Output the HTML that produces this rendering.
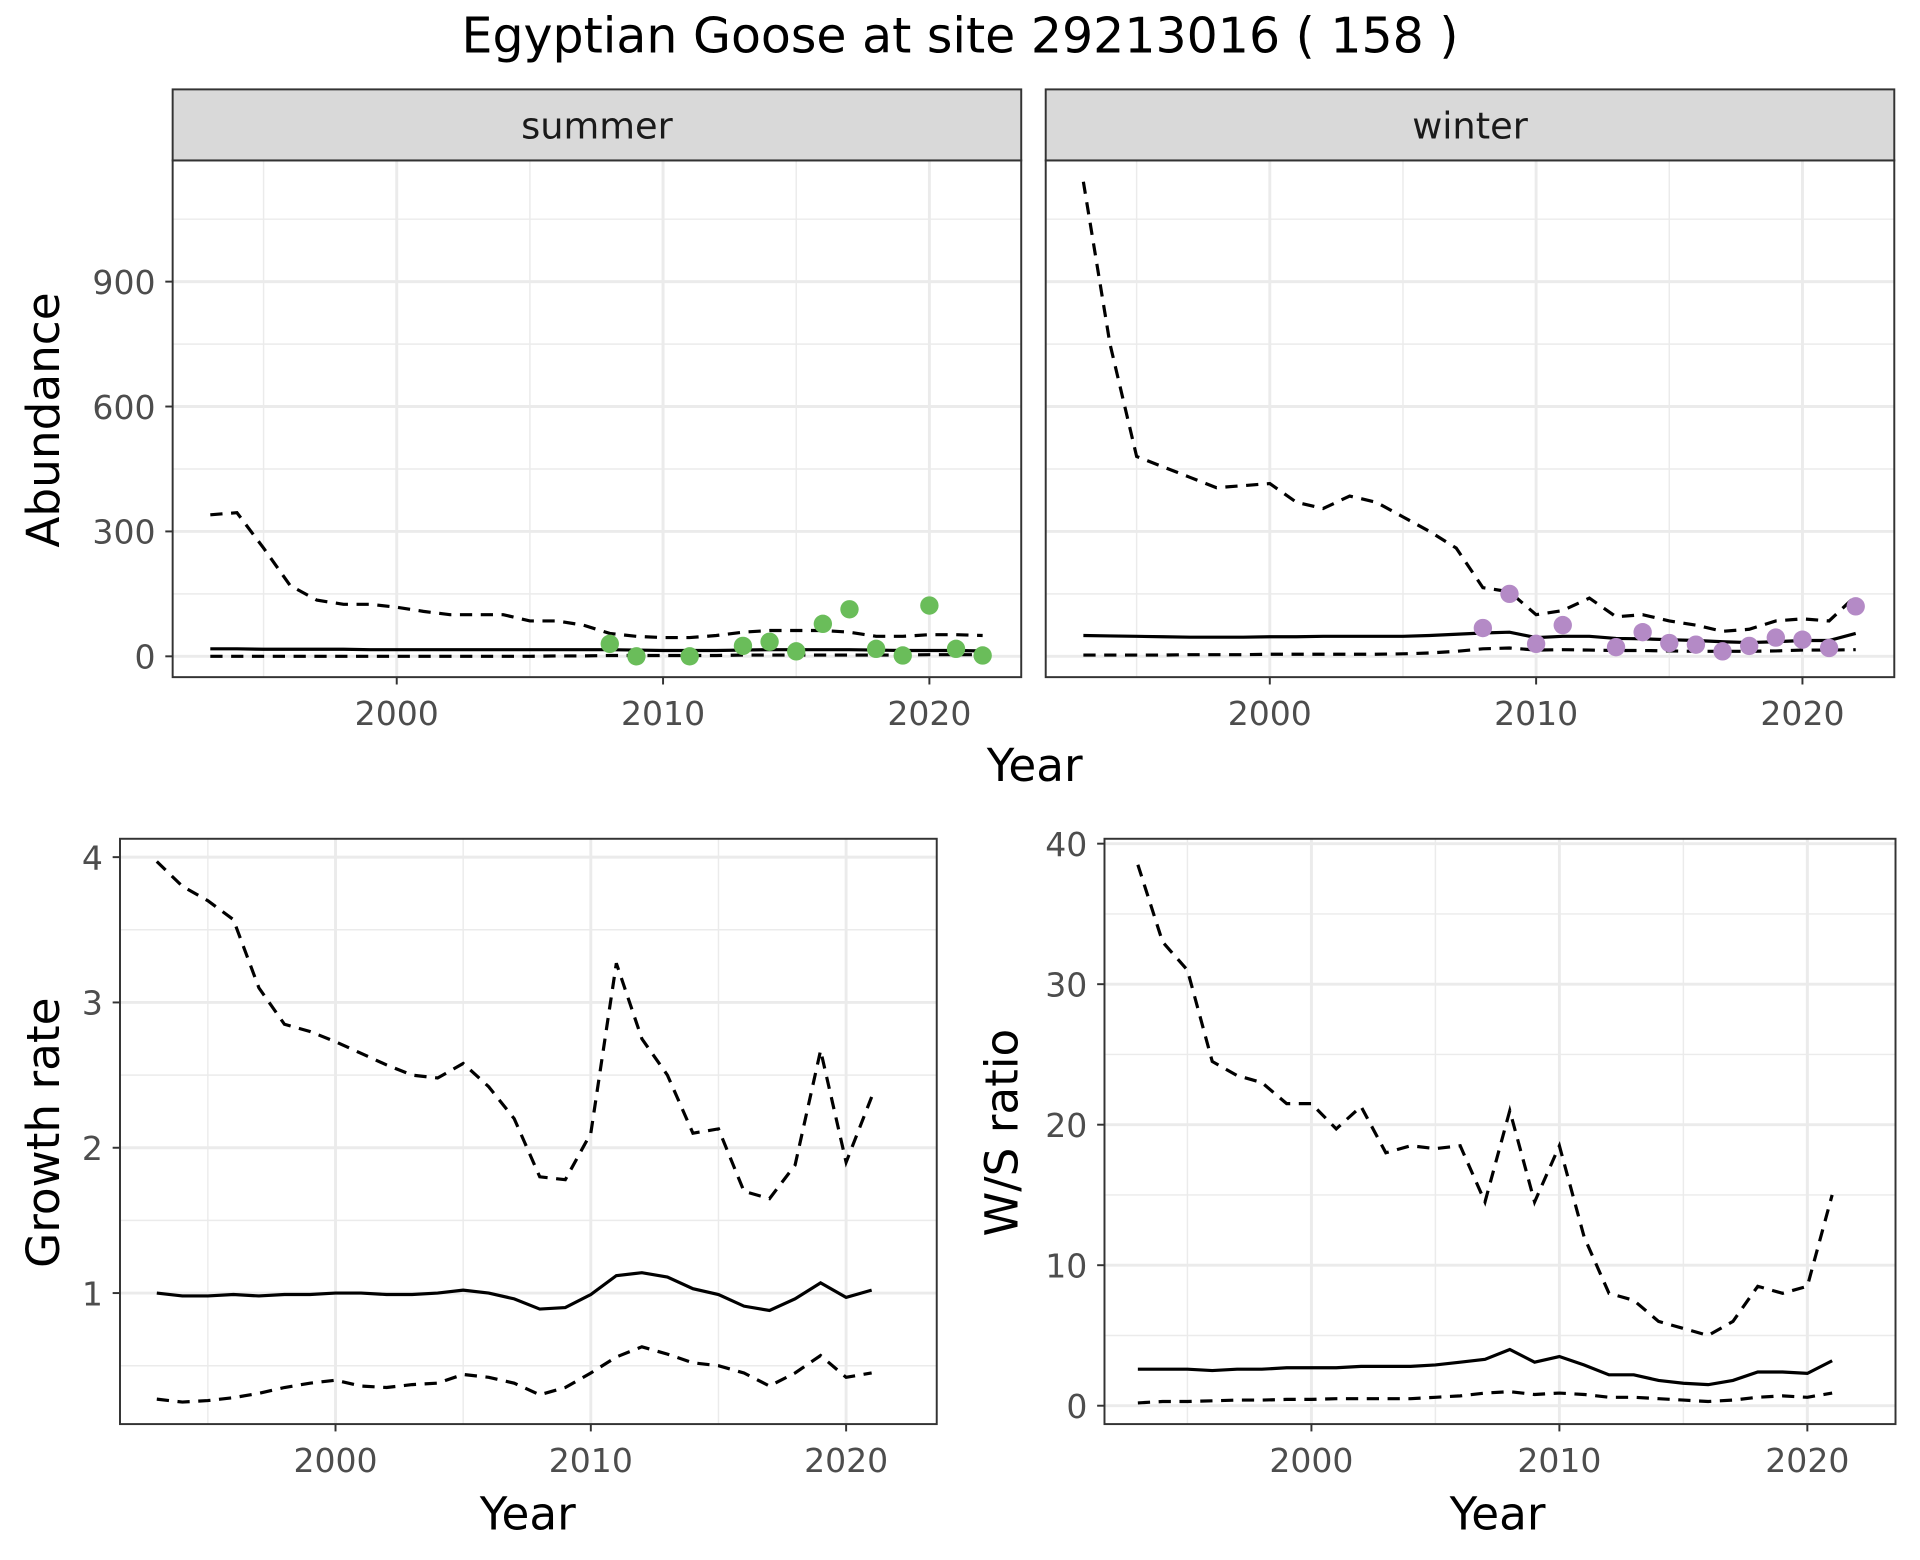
<!DOCTYPE html>
<html><head><meta charset="utf-8"><style>
html,body{margin:0;padding:0;background:#fff;}
svg{display:block;font-family:"DejaVu Sans","Liberation Sans",sans-serif;}
</style></head><body>
<svg id="chart" width="1920" height="1560" viewBox="0 0 1568 1274" preserveAspectRatio="none" xmlns="http://www.w3.org/2000/svg">
<text x="784" y="43" text-anchor="middle" font-size="40" fill="#000">Egyptian Goose at site 29213016 ( 158 )</text>
</svg>
<script>
const yearsA = [1993,1994,1995,1996,1997,1998,1999,2000,2001,2002,2003,2004,2005,2006,2007,2008,2009,2010,2011,2012,2013,2014,2015,2016,2017,2018,2019,2020,2021,2022];
const sumUpper = [340,345,260,170,135,125,125,118,108,100,100,100,85,85,75,55,48,45,45,50,58,62,62,62,58,48,48,52,52,50];
const sumMean = [18,18,17,17,17,17,16,16,16,16,16,16,16,16,16,16,15,14,14,14,15,16,16,16,16,15,14,14,14,13];
const sumLower = [0,0,0,0,0,0,0,0,0,0,0,0,0,1,1,2,2,2,2,2,3,3,3,3,3,3,3,4,4,4];
const sumPtYears = [2008,2009,2011,2013,2014,2015,2016,2017,2018,2019,2020,2021,2022];
const sumPtVals = [30,0,0,25,35,12,78,113,18,2,122,18,2];
const winUpper = [1140,750,480,455,430,405,410,415,370,355,385,370,335,300,260,165,155,100,110,140,95,100,85,75,60,65,85,90,85,145];
const winMean = [50,49,48,47,46,46,46,47,47,48,48,48,48,50,53,56,58,45,48,48,43,42,40,38,35,33,35,38,38,55];
const winLower = [3,3,3,3,4,4,4,5,5,5,5,5,6,8,12,18,20,15,16,15,14,14,13,12,12,12,13,15,15,16];
const winPtYears = [2008,2009,2010,2011,2013,2014,2015,2016,2017,2018,2019,2020,2021,2022];
const winPtVals = [68,150,30,75,22,58,32,28,12,25,45,40,20,120];
const yearsB = [1993,1994,1995,1996,1997,1998,1999,2000,2001,2002,2003,2004,2005,2006,2007,2008,2009,2010,2011,2012,2013,2014,2015,2016,2017,2018,2019,2020,2021];
const grUpper = [3.97,3.8,3.7,3.57,3.1,2.85,2.8,2.73,2.65,2.57,2.5,2.48,2.58,2.42,2.2,1.8,1.78,2.1,3.27,2.75,2.5,2.1,2.13,1.7,1.65,1.88,2.67,1.9,2.35];
const grMean = [1.0,0.98,0.98,0.99,0.98,0.99,0.99,1.0,1.0,0.99,0.99,1.0,1.02,1.0,0.96,0.89,0.9,0.99,1.12,1.14,1.11,1.03,0.99,0.91,0.88,0.96,1.07,0.97,1.02];
const grLower = [0.27,0.25,0.26,0.28,0.31,0.35,0.38,0.4,0.36,0.35,0.37,0.38,0.44,0.42,0.38,0.3,0.35,0.45,0.56,0.63,0.58,0.52,0.5,0.45,0.36,0.45,0.57,0.42,0.45];
const wsUpper = [38.5,33,31,24.5,23.5,23,21.5,21.5,19.7,21.3,18,18.5,18.3,18.5,14.5,21,14.5,18.5,12,8,7.5,6,5.5,5,6,8.5,8,8.5,15];
const wsMean = [2.6,2.6,2.6,2.5,2.6,2.6,2.7,2.7,2.7,2.8,2.8,2.8,2.9,3.1,3.3,4.0,3.1,3.5,2.9,2.2,2.2,1.8,1.6,1.5,1.8,2.4,2.4,2.3,3.2];
const wsLower = [0.2,0.3,0.3,0.35,0.4,0.4,0.45,0.45,0.5,0.5,0.5,0.5,0.6,0.7,0.9,1.0,0.8,0.9,0.8,0.6,0.6,0.5,0.4,0.3,0.4,0.6,0.7,0.6,0.9];
const xTicks = [2000,2010,2020];
const abTicks = [0,300,600,900];
const grTicks = [1,2,3,4];
const wsTicks = [0,10,20,30,40];

const svg = document.getElementById('chart');
const NS = 'http://www.w3.org/2000/svg';
function mk(tag, attrs, parent){const e=document.createElementNS(NS,tag);for(const k in attrs)e.setAttribute(k,attrs[k]);(parent||svg).appendChild(e);return e;}
function lin(d0,d1,r0,r1){return v=>r0+(v-d0)*(r1-r0)/(d1-d0);}

function panel(o){
  const g=mk('g',{});
  
  
  const {x0,x1,y0,y1,sx,sy}=o;
  o.xMinor.forEach(v=>mk('line',{x1:sx(v),x2:sx(v),y1:y0,y2:y1,stroke:'#ebebeb','stroke-width':1.2},g));
  o.yMinor.forEach(v=>mk('line',{x1:x0,x2:x1,y1:sy(v),y2:sy(v),stroke:'#ebebeb','stroke-width':1.2},g));
  xTicks.forEach(v=>mk('line',{x1:sx(v),x2:sx(v),y1:y0,y2:y1,stroke:'#ebebeb','stroke-width':2.4},g));
  o.yTicks.forEach(v=>mk('line',{x1:x0,x2:x1,y1:sy(v),y2:sy(v),stroke:'#ebebeb','stroke-width':2.4},g));
  const line=(ys,vals,dash,nm)=>{const p=mk('polyline',{points:ys.map((y,i)=>sx(y)+','+sy(vals[i])).join(' '),fill:'none',stroke:'#000','stroke-width':2.6,'stroke-dasharray':dash?'10,7':'none'},g);
    
    };
  line(o.years,o.upper,true,o.name+'-upper');
  line(o.years,o.lower,true,o.name+'-lower');
  line(o.years,o.mean,false,o.name+'-mean');
  if(o.ptY){o.ptY.forEach((y,i)=>{const c=mk('circle',{cx:sx(y),cy:sy(o.ptV[i]),r:7.5,fill:o.col},g);
    
    });}
  mk('rect',{x:x0,y:y0,width:x1-x0,height:y1-y0,fill:'none',stroke:'#333','stroke-width':1.6},g);
  xTicks.forEach(v=>{mk('line',{x1:sx(v),x2:sx(v),y1:y1,y2:y1+6,stroke:'#333','stroke-width':1.6},g);
    const t=mk('text',{x:sx(v),y:y1+39,'text-anchor':'middle','font-size':27,fill:'#4d4d4d'},g);t.textContent=v;
    
    });
  if(o.yLab!==false) o.yTicks.forEach(v=>{mk('line',{x1:x0-6,x2:x0,y1:sy(v),y2:sy(v),stroke:'#333','stroke-width':1.6},g);
    const t=mk('text',{x:x0-14,y:sy(v)+10,'text-anchor':'end','font-size':27,fill:'#4d4d4d'},g);t.textContent=v;
    
    });
  if(o.strip){const s=mk('rect',{x:x0,y:y0-58,width:x1-x0,height:58,fill:'#d9d9d9',stroke:'#333','stroke-width':1.6},g);
    
    
    const t=mk('text',{x:(x0+x1)/2,y:y0-18,'text-anchor':'middle','font-size':30,fill:'#1a1a1a'},g);t.textContent=o.strip;}
}
function label(txt,x,y,rot,nm){const t=mk('text',{x:x,y:y,'text-anchor':'middle','font-size':37,fill:'#000',transform:rot?`rotate(-90 ${x} ${y})`:''});t.textContent=txt;
  
  }

const abY=lin(0,900,536,230);
panel({name:'summer-panel',strip:'summer',x0:141,x1:834,y0:131,y1:553,sx:lin(2000,2020,324,759),sy:abY,xMinor:[1995,2005,2015],yMinor:[150,450,750,1050],yTicks:abTicks,years:yearsA,upper:sumUpper,mean:sumMean,lower:sumLower,ptY:sumPtYears,ptV:sumPtVals,col:'#6abd5a'});
panel({name:'winter-panel',strip:'winter',x0:854,x1:1547,y0:131,y1:553,sx:lin(2000,2020,1037,1472),sy:abY,xMinor:[1995,2005,2015],yMinor:[150,450,750,1050],yTicks:abTicks,yLab:false,years:yearsA,upper:winUpper,mean:winMean,lower:winLower,ptY:winPtYears,ptV:winPtVals,col:'#b48ac6'});
panel({name:'growth-panel',x0:98,x1:765,y0:685,y1:1163,sx:lin(2000,2020,274,691),sy:lin(1,4,1056,700),xMinor:[1995,2005,2015],yMinor:[0.5,1.5,2.5,3.5],yTicks:grTicks,years:yearsB,upper:grUpper,mean:grMean,lower:grLower});
panel({name:'ws-ratio-panel',x0:902,x1:1548,y0:685,y1:1163,sx:lin(2000,2020,1071,1476),sy:lin(0,40,1148,689),xMinor:[1995,2005,2015],yMinor:[5,15,25,35],yTicks:wsTicks,years:yearsB,upper:wsUpper,mean:wsMean,lower:wsLower});
label('Year',845,638,false,'x-axis-title-top');
label('Abundance',48,343,true,'y-axis-title-abundance');
label('Year',431,1249,false,'x-axis-title-growth');
label('Growth rate',48,925,true,'y-axis-title-growth');
label('Year',1223,1249,false,'x-axis-title-ws');
label('W/S ratio',831,925,true,'y-axis-title-ws');
</script>
</body></html>
